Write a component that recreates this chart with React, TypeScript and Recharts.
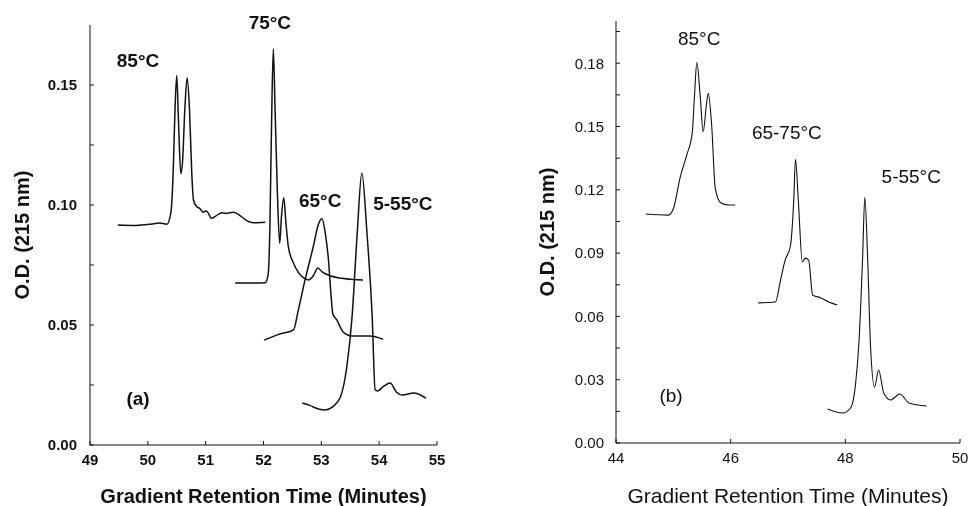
import { Label, Line, LineChart, ReferenceDot, XAxis, YAxis } from "recharts";

// (a) retention time in minutes, O.D. at 215 nm
const a85: [number, number][] = [
  [49.48, 0.0917], [49.8, 0.0915], [50.05, 0.092], [50.2, 0.0925], [50.33, 0.092],
  [50.4, 0.097], [50.44, 0.115], [50.47, 0.14], [50.5, 0.154], [50.53, 0.135],
  [50.57, 0.113], [50.6, 0.118], [50.64, 0.14], [50.68, 0.153], [50.72, 0.14],
  [50.76, 0.113], [50.79, 0.102], [50.84, 0.0995], [50.9, 0.0985], [50.96, 0.097],
  [51.0, 0.0975], [51.03, 0.0972], [51.1, 0.0945], [51.18, 0.0955], [51.28, 0.0968],
  [51.35, 0.0965], [51.48, 0.097], [51.6, 0.0955], [51.71, 0.0935], [51.83, 0.0926],
  [52.03, 0.0928],
];
const a75: [number, number][] = [
  [51.51, 0.0675], [51.8, 0.0675], [52.03, 0.0676], [52.08, 0.071], [52.11, 0.09],
  [52.14, 0.135], [52.17, 0.165], [52.2, 0.14], [52.24, 0.105], [52.28, 0.084],
  [52.31, 0.095], [52.35, 0.103], [52.39, 0.092], [52.43, 0.0826], [52.52, 0.0757],
  [52.6, 0.072], [52.69, 0.0697], [52.78, 0.0688], [52.86, 0.0705], [52.94, 0.0737],
  [53.02, 0.072], [53.15, 0.0705], [53.35, 0.0695], [53.55, 0.069], [53.72, 0.0688],
];
const a65: [number, number][] = [
  [52.01, 0.0437], [52.25, 0.046], [52.52, 0.048], [52.6, 0.056], [52.72, 0.069],
  [52.86, 0.0826], [52.95, 0.092], [53.01, 0.0944], [53.07, 0.088], [53.12, 0.078],
  [53.16, 0.065], [53.2, 0.0545], [53.24, 0.053], [53.27, 0.052], [53.32, 0.0495],
  [53.38, 0.047], [53.53, 0.0454], [53.84, 0.0454], [54.07, 0.044],
];
const a5to55: [number, number][] = [
  [52.67, 0.0175], [52.8, 0.0165], [52.95, 0.015], [53.07, 0.0146], [53.2, 0.016],
  [53.33, 0.02], [53.44, 0.0325], [53.53, 0.053], [53.62, 0.088], [53.7, 0.1133],
  [53.79, 0.088], [53.88, 0.053], [53.93, 0.023], [53.97, 0.0225], [54.08, 0.0245],
  [54.19, 0.0258], [54.3, 0.022], [54.4, 0.0208], [54.6, 0.0217], [54.81, 0.0195],
];

// (b)
const b85: [number, number][] = [
  [44.52, 0.1085], [44.91, 0.108], [45.0, 0.111], [45.12, 0.126], [45.24, 0.137],
  [45.33, 0.147], [45.37, 0.165], [45.41, 0.1803], [45.47, 0.164], [45.52, 0.1475],
  [45.58, 0.161], [45.61, 0.1657], [45.67, 0.15], [45.73, 0.121], [45.82, 0.114],
  [45.96, 0.1128], [46.08, 0.1128],
];
const b65to75: [number, number][] = [
  [46.48, 0.0664], [46.78, 0.0668], [46.87, 0.0772], [46.95, 0.0867], [47.04, 0.093],
  [47.1, 0.115], [47.13, 0.1345], [47.18, 0.115], [47.25, 0.0858], [47.3, 0.0876],
  [47.36, 0.0867], [47.43, 0.07], [47.56, 0.069], [47.71, 0.0668], [47.86, 0.0654],
];
const b5to55: [number, number][] = [
  [47.69, 0.0161], [47.95, 0.0142], [48.09, 0.0166], [48.18, 0.0284], [48.24, 0.0488],
  [48.3, 0.0867], [48.34, 0.1165], [48.39, 0.0867], [48.44, 0.0455], [48.51, 0.0265],
  [48.58, 0.0346], [48.67, 0.0237], [48.79, 0.0204], [48.95, 0.0232], [49.11, 0.019],
  [49.42, 0.0175],
];

const aTimeTicks = [49, 50, 51, 52, 53, 54, 55];
const aOdTicks = [0, 0.025, 0.05, 0.075, 0.1, 0.125, 0.15];
const bTimeTicks = [44, 46, 48, 50];
const bOdTicks = [0, 0.015, 0.03, 0.045, 0.06, 0.075, 0.09, 0.105, 0.12, 0.135, 0.15, 0.165, 0.18, 0.195];

// curve labels, placed in data coordinates
const aLabels: [string, number, number][] = [
  ["85°C", 49.83, 0.1604],
  ["75°C", 52.11, 0.176],
  ["65°C", 52.98, 0.102],
  ["5-55°C", 54.41, 0.1008],
  ["(a)", 49.83, 0.0196],
];
const bLabels: [string, number, number][] = [
  ["85°C", 45.45, 0.192],
  ["65-75°C", 46.98, 0.1474],
  ["5-55°C", 49.15, 0.1265],
  ["(b)", 44.96, 0.0227],
];

const toRows = (pts: [number, number][]) => pts.map(([t, od]) => ({ t, od }));

type PanelProps = {
  traces: [number, number][][];
  labels: [string, number, number][];
  xDomain: [number, number];
  xTicks: number[];
  yDomain: [number, number];
  yTicks: number[];
  majorStep: number;
  width: number;
  margin: { top: number; right: number; bottom: number; left: number };
  yAxisWidth: number;
  xAxisHeight: number;
  yLabelOffset: number;
  yTickMargin: number;
  bold: boolean;
  tickFont: number;
  titleFont: number;
  stroke: number;
};

function Panel(p: PanelProps) {
  const weight = p.bold ? 700 : 400;
  const fmtY = (v: number) => {
    const r = v / p.majorStep;
    return Math.abs(r - Math.round(r)) < 1e-6 ? v.toFixed(2) : "";
  };
  return (
    <LineChart width={p.width} height={506} margin={p.margin}>
      <XAxis
        type="number"
        dataKey="t"
        domain={p.xDomain}
        ticks={p.xTicks}
        allowDataOverflow
        height={p.xAxisHeight}
        tickSize={-4}
        tickMargin={13}
        stroke="#111"
        tick={{ fill: "#111", fontSize: p.tickFont, fontWeight: weight }}
      >
        <Label
          value="Gradient Retention Time (Minutes)"
          position="insideBottom"
          offset={3}
          style={{ fontSize: p.titleFont, fontWeight: weight, fill: "#111" }}
        />
      </XAxis>
      <YAxis
        type="number"
        dataKey="od"
        domain={p.yDomain}
        ticks={p.yTicks}
        allowDataOverflow
        width={p.yAxisWidth}
        tickSize={-4}
        tickMargin={p.yTickMargin}
        interval={0}
        tickFormatter={fmtY}
        stroke="#111"
        tick={{ fill: "#111", fontSize: p.tickFont, fontWeight: weight }}
      >
        <Label
          value="O.D. (215 nm)"
          angle={-90}
          position="insideLeft"
          offset={p.yLabelOffset}
          style={{ textAnchor: "middle", fontSize: 20, fontWeight: 700, fill: "#111" }}
        />
      </YAxis>
      {p.traces.map((tr, i) => (
        <Line
          key={i}
          data={toRows(tr)}
          dataKey="od"
          type="monotone"
          stroke="#111"
          strokeWidth={p.stroke}
          dot={false}
          activeDot={false}
          isAnimationActive={false}
        />
      ))}
      {p.labels.map(([text, t, od]) => (
        <ReferenceDot
          key={text}
          x={t}
          y={od}
          r={0}
          fill="none"
          stroke="none"
          ifOverflow="visible"
          label={{
            value: text,
            position: "center",
            fill: "#111",
            fontSize: 19,
            fontWeight: weight,
          }}
        />
      ))}
    </LineChart>
  );
}

export default function App() {
  return (
    <div
      style={{
        position: "fixed",
        left: 0,
        top: 0,
        width: 971,
        height: 506,
        background: "#fff",
        fontFamily: '"Liberation Sans", Arial, Helvetica, sans-serif',
      }}
    >
      <style>{`.recharts-surface { overflow: visible; }`}</style>
      <div style={{ position: "absolute", left: 0, top: 0 }}>
        <Panel
          traces={[a85, a75, a65, a5to55]}
          labels={aLabels}
          xDomain={[49, 55]}
          xTicks={aTimeTicks}
          yDomain={[0, 0.175]}
          yTicks={aOdTicks}
          majorStep={0.05}
          width={480}
          margin={{ top: 25, right: 43, bottom: 0, left: 0 }}
          yAxisWidth={90}
          xAxisHeight={61}
          yLabelOffset={22}
          yTickMargin={17}
          bold
          tickFont={15}
          titleFont={20}
          stroke={1.5}
        />
      </div>
      <div style={{ position: "absolute", left: 480, top: 0 }}>
        <Panel
          traces={[b85, b65to75, b5to55]}
          labels={bLabels}
          xDomain={[44, 50]}
          xTicks={bTimeTicks}
          yDomain={[0, 0.2]}
          yTicks={bOdTicks}
          majorStep={0.03}
          width={491}
          margin={{ top: 21, right: 11, bottom: 0, left: 0 }}
          yAxisWidth={136}
          xAxisHeight={63}
          yLabelOffset={67}
          yTickMargin={16}
          bold={false}
          tickFont={15}
          titleFont={21}
          stroke={1.1}
        />
      </div>
    </div>
  );
}
